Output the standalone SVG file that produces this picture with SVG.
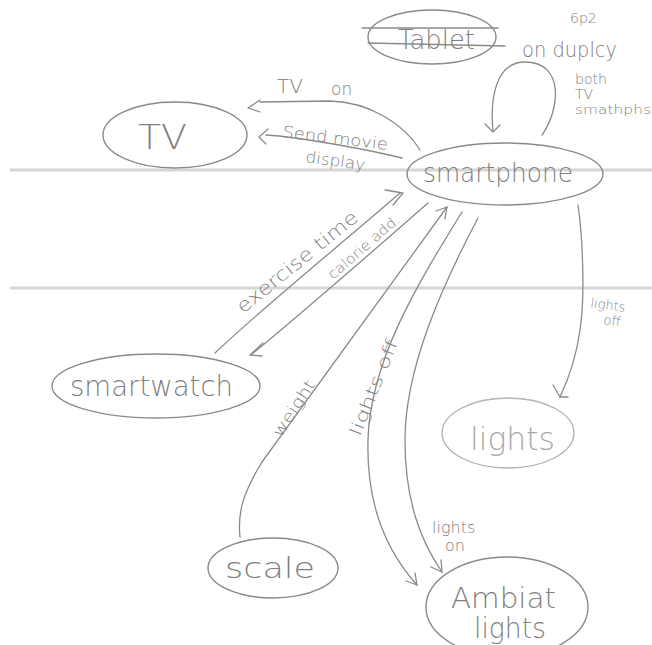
<svg xmlns="http://www.w3.org/2000/svg" width="652" height="645" viewBox="0 0 652 645">
  <style>
    .ln { fill: none; stroke: #8a8a8a; stroke-width: 1.3; stroke-linecap: round; stroke-linejoin: round; }
    .node { fill: none; stroke: #8a8a8a; stroke-width: 1.4; }
    .faint { stroke: #b4b4b4; }
    .t { font-family: "DejaVu Sans", "Liberation Sans", sans-serif; font-weight: 200; fill: #808080; }
    .tf { fill: #a8a8a8; }
    .crease { stroke: #d6d6d6; stroke-width: 3; }
  </style>
  <rect width="652" height="645" fill="#ffffff"/>

  <!-- paper creases -->
  <g id="creases">
    <line class="crease" x1="10" y1="170" x2="652" y2="170"/>
    <line class="crease" x1="10" y1="288" x2="652" y2="288"/>
  </g>

  <!-- connectors -->
  <g id="connectors">
    <!-- smartphone -> TV : TV on -->
    <path class="ln" d="M420,150 C405,125 370,102 330,101 L260,102"/>
    <polyline class="ln" points="260,100 248,108 260,112"/>
    <!-- smartphone -> TV : send movie display -->
    <path class="ln" d="M402,158 C370,150 300,137 266,135"/>
    <polyline class="ln" points="268,129 259,137 266,144"/>
    <!-- self loop on smartphone -->
    <path class="ln" d="M542,135 C560,110 565,62 525,62 C495,62 490,100 493,131"/>
    <polyline class="ln" points="485,124 493,132 500,125"/>
    <!-- smartwatch -> smartphone : exercise time -->
    <path class="ln" d="M215,353 C260,310 340,245 400,193"/>
    <polyline class="ln" points="385,190 403,193 393,205"/>
    <!-- smartphone -> smartwatch : calorie add. -->
    <path class="ln" d="M428,203 C380,245 300,315 252,354"/>
    <polyline class="ln" points="263,343 250,355 262,356"/>
    <!-- scale -> smartphone : weight -->
    <path class="ln" d="M240,537 C237,510 245,490 262,462 L447,207"/>
    <polyline class="ln" points="436,211 447,207 445,219"/>
    <!-- smartphone -> ambient lights : lights off -->
    <path class="ln" d="M462,212 C420,280 370,360 368,440 C366,510 390,555 417,585"/>
    <polyline class="ln" points="415,573 417,585 406,581"/>
    <!-- smartphone -> ambient lights : lights on -->
    <path class="ln" d="M478,218 C440,290 405,370 405,440 C405,500 420,540 442,572"/>
    <polyline class="ln" points="441,560 442,572 431,567"/>
    <!-- smartphone -> lights : lights off -->
    <path class="ln" d="M578,205 C583,240 585,300 580,330 C576,360 568,380 560,397"/>
    <polyline class="ln" points="553,385 560,397 568,397"/>

    <!-- connector labels -->
    <text class="t" x="277" y="93" font-size="20">TV</text>
    <text class="t" x="331" y="95" font-size="17">on</text>
    <text class="t" x="282" y="137" font-size="16" textLength="106" lengthAdjust="spacingAndGlyphs" transform="rotate(7 282 137)">Send movie</text>
    <text class="t" x="305" y="162" font-size="16" textLength="60" lengthAdjust="spacingAndGlyphs" transform="rotate(8 305 162)">display</text>
    <text class="t" x="522" y="57" font-size="21" textLength="95" lengthAdjust="spacingAndGlyphs">on duplcy</text>
    <text class="t" x="575" y="84" font-size="14">both</text>
    <text class="t" x="575" y="99" font-size="14">TV</text>
    <text class="t" x="575" y="114" font-size="13" textLength="76" lengthAdjust="spacingAndGlyphs">smathphs</text>
    <text class="t" x="243" y="314" font-size="19" textLength="150" lengthAdjust="spacingAndGlyphs" transform="rotate(-39 243 314)">exercise time</text>
    <text class="t" x="333" y="280" font-size="14" textLength="90" lengthAdjust="spacingAndGlyphs" transform="rotate(-41 333 280)">calorie add.</text>
    <text class="t" x="281" y="438" font-size="16" textLength="64" lengthAdjust="spacingAndGlyphs" transform="rotate(-57 281 438)">weight</text>
    <text class="t" x="360" y="437" font-size="17" textLength="102" lengthAdjust="spacingAndGlyphs" transform="rotate(-68 360 437)">lights off</text>
    <text class="t" x="590" y="307" font-size="13" transform="rotate(8 590 307)">lights</text>
    <text class="t" x="603" y="324" font-size="13" transform="rotate(8 603 324)">off</text>
    <text class="t" x="432" y="533" font-size="16">lights</text>
    <text class="t" x="445" y="551" font-size="16">on</text>
  </g>

  <!-- page number -->
  <text class="t" x="570" y="23" font-size="14">6p2</text>

  <g id="tablet">
    <ellipse class="node" cx="432" cy="37" rx="64" ry="27"/>
    <text class="t" x="398" y="49" font-size="27" textLength="77" lengthAdjust="spacingAndGlyphs">Tablet</text>
    <line class="ln" x1="362" y1="28" x2="498" y2="28"/>
    <line class="ln" x1="368" y1="43" x2="505" y2="46"/>
  </g>

  <g id="tv">
    <ellipse class="node" cx="175" cy="135" rx="72" ry="33"/>
    <text class="t" x="138" y="149" font-size="34" textLength="49" lengthAdjust="spacingAndGlyphs">TV</text>
  </g>

  <g id="smartphone">
    <ellipse class="node" cx="505" cy="174" rx="98" ry="31"/>
    <text class="t" x="423" y="182" font-size="27" textLength="150" lengthAdjust="spacingAndGlyphs">smartphone</text>
  </g>

  <g id="smartwatch">
    <ellipse class="node" cx="156" cy="386" rx="104" ry="32"/>
    <text class="t" x="70" y="396" font-size="29" textLength="163" lengthAdjust="spacingAndGlyphs">smartwatch</text>
  </g>

  <g id="lights">
    <ellipse class="node faint" cx="508" cy="433" rx="66" ry="35"/>
    <text class="t tf" x="470" y="450" font-size="32" textLength="85" lengthAdjust="spacingAndGlyphs">lights</text>
  </g>

  <g id="scale">
    <ellipse class="node" cx="273" cy="568" rx="65" ry="30"/>
    <text class="t" x="225" y="578" font-size="29" textLength="90" lengthAdjust="spacingAndGlyphs">scale</text>
  </g>

  <g id="ambient-lights">
    <ellipse class="node" cx="507" cy="607" rx="81" ry="50"/>
    <text class="t" font-size="28">
      <tspan x="451" y="608" textLength="105" lengthAdjust="spacingAndGlyphs">Ambiat</tspan>
      <tspan x="474" y="638" textLength="72" lengthAdjust="spacingAndGlyphs">lights</tspan>
    </text>
  </g>
</svg>
